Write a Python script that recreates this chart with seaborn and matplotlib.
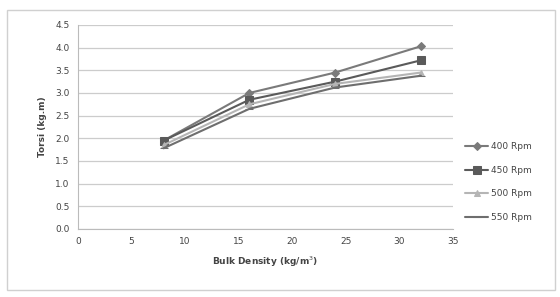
import numpy as np
import pandas as pd
import matplotlib.pyplot as plt
import seaborn as sns
from matplotlib.patches import Rectangle

# values
bulk_density = [8, 16, 24, 32]
rpm_400 = [1.95, 3.00, 3.45, 4.03]
rpm_450 = [1.95, 2.85, 3.25, 3.72]
rpm_500 = [1.85, 2.75, 3.20, 3.45]
rpm_550 = [1.78, 2.65, 3.12, 3.38]
series_names = ["400 Rpm", "450 Rpm", "500 Rpm", "550 Rpm"]
y_ticks = [0.0, 0.5, 1.0, 1.5, 2.0, 2.5, 3.0, 3.5, 4.0, 4.5]
x_ticks = [0, 5, 10, 15, 20, 25, 30, 35]


def main():
    rows = []
    for name, vals in zip(series_names, [rpm_400, rpm_450, rpm_500, rpm_550]):
        for x, y in zip(bulk_density, vals):
            rows.append({"Bulk Density": x, "Torsi": y, "Speed": name})
    df = pd.DataFrame(rows)

    sns.set_style("white")
    plt.rcParams['font.family'] = ['DejaVu Sans']

    fig = plt.figure(figsize=(5.6, 2.97), dpi=100)
    ax = fig.add_axes([0.139, 0.229, 0.67, 0.687])

    palette = {"400 Rpm": "#7a7a7a", "450 Rpm": "#5a5a5a",
               "500 Rpm": "#b5b5b5", "550 Rpm": "#6e6e6e"}
    markers = {"400 Rpm": "D", "450 Rpm": "s", "500 Rpm": "^", "550 Rpm": "_"}
    sizes = {"400 Rpm": 4, "450 Rpm": 6, "500 Rpm": 5, "550 Rpm": 6}

    for name in series_names:
        sub = df[df["Speed"] == name]
        sns.lineplot(data=sub, x="Bulk Density", y="Torsi", ax=ax,
                     color=palette[name], marker=markers[name],
                     markersize=sizes[name], markeredgecolor=palette[name],
                     linewidth=1.5, label=name)

    ax.set_xlim(0, 35)
    ax.set_ylim(0, 4.5)
    ax.set_xticks(x_ticks)
    ax.set_yticks(y_ticks)
    ax.set_yticklabels([f"{t:.1f}" for t in y_ticks])
    ax.tick_params(labelsize=6.5, colors="#444444", length=0, pad=6)
    ax.yaxis.grid(True, color="#cccccc", linewidth=0.9)
    for s in ["top", "right"]:
        ax.spines[s].set_visible(False)
    ax.spines["left"].set_color("#bbbbbb")
    ax.spines["bottom"].set_color("#bbbbbb")

    ax.set_xlabel("Bulk Density (kg/m$^3$)", fontsize=6.5, fontweight="bold",
                  color="#444444", labelpad=6)
    ax.set_ylabel("Torsi (kg.m)", fontsize=6.5, fontweight="bold",
                  color="#444444", labelpad=6)

    leg = ax.legend(loc="center left", bbox_to_anchor=(1.01, 0.23),
                    frameon=False, fontsize=6.5, handlelength=2.6,
                    labelspacing=1.6, handletextpad=0.3)
    for t in leg.get_texts():
        t.set_color("#444444")

    fig.patches.append(Rectangle((7 / 560, 7 / 297), 548 / 560, 280 / 297,
                                 transform=fig.transFigure, fill=False,
                                 edgecolor="#d0d0d0", linewidth=1))

    fig.savefig("out.png", dpi=100)
    plt.close()


if __name__ == "__main__":
    main()
